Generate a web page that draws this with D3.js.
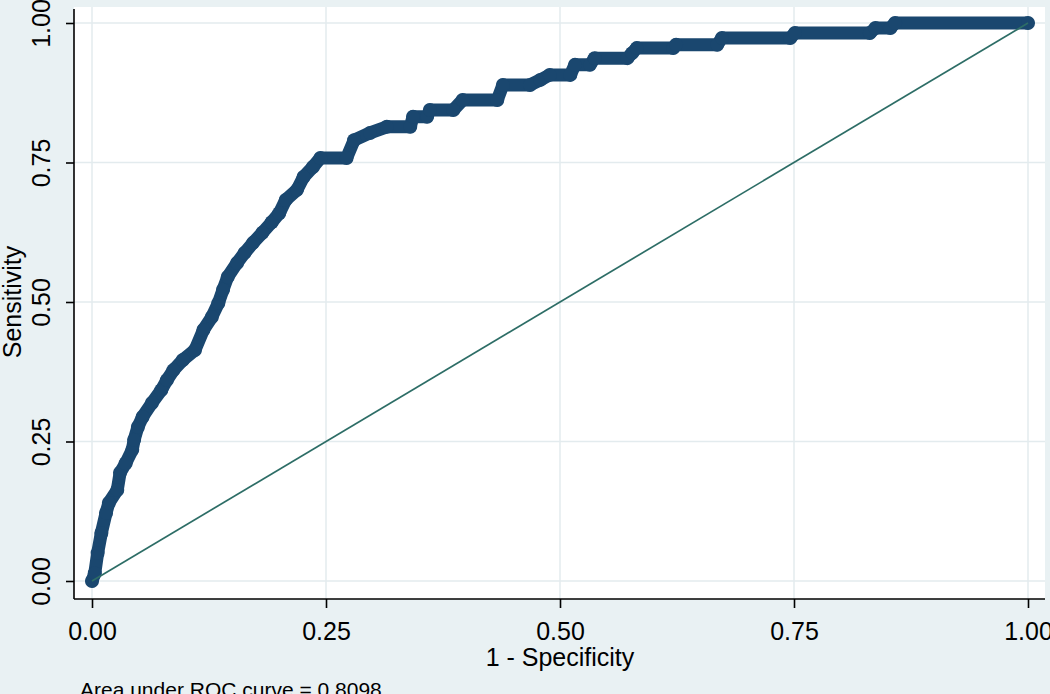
<!DOCTYPE html>
<html>
<head>
<meta charset="utf-8">
<script src="https://cdn.jsdelivr.net/npm/d3@7"></script>
<style>
  html, body { margin: 0; padding: 0; background: #e9f1f3; }
  svg { display: block; }
  text { font-family: "Liberation Sans", Arial, sans-serif; fill: #000; }
</style>
</head>
<body>
<svg id="chart" width="1050" height="694"></svg>
<script>
// ---- data ----
const fpr = [0.000,0.003,0.006,0.010,0.015,0.018,0.027,0.030,0.036,0.043,0.045,0.049,0.054,0.064,0.074,0.080,0.087,0.097,0.110,
             0.119,0.128,0.135,0.140,0.145,0.155,0.163,0.172,0.182,0.192,0.200,0.207,0.219,0.226,0.236,0.244,0.272,
             0.280,0.297,0.315,0.340,0.343,0.358,0.361,0.386,0.396,0.433,0.439,0.468,0.479,0.489,0.511,0.516,0.532,
             0.537,0.572,0.577,0.582,0.621,0.624,0.668,0.673,0.746,0.751,0.831,0.837,0.853,0.858,1.000];
const tpr = [0.000,0.014,0.050,0.086,0.122,0.140,0.163,0.194,0.211,0.235,0.253,0.276,0.294,0.319,0.342,0.360,0.378,0.396,0.414,
             0.450,0.473,0.498,0.522,0.545,0.570,0.588,0.606,0.624,0.643,0.659,0.683,0.701,0.724,0.742,0.758,0.758,
             0.790,0.803,0.814,0.814,0.832,0.832,0.844,0.844,0.862,0.862,0.889,0.889,0.898,0.907,0.907,0.925,0.925,
             0.937,0.937,0.946,0.955,0.955,0.961,0.961,0.973,0.973,0.982,0.982,0.991,0.991,1.000,1.000];
const refLine = [0, 1];
const xTicks = [0, 0.25, 0.5, 0.75, 1];
const yTicks = [0, 0.25, 0.5, 0.75, 1];
const xLabel = "1 - Specificity";
const yLabel = "Sensitivity";
const note = "Area under ROC curve = 0.8098";

// ---- layout ----
const svg = d3.select("#chart");
const plot = { left: 74, right: 1045, top: 7, bottom: 599 };
const x = d3.scaleLinear().domain([0, 1]).range([92, 1028]);
const y = d3.scaleLinear().domain([0, 1]).range([581, 23]);
const FONT = '"Liberation Sans", Arial, sans-serif';

svg.append("rect").attr("width", 1050).attr("height", 694).attr("fill", "#e9f1f3");
svg.append("rect")
  .attr("x", plot.left).attr("y", plot.top)
  .attr("width", plot.right - plot.left).attr("height", plot.bottom - plot.top)
  .attr("fill", "#ffffff");

// grid
const grid = svg.append("g").attr("stroke", "#e3ebee").attr("stroke-width", 1.5);
grid.selectAll("line.v").data(xTicks).join("line").attr("class", "v")
  .attr("x1", d => x(d)).attr("x2", d => x(d))
  .attr("y1", plot.top).attr("y2", plot.bottom);
grid.selectAll("line.h").data(yTicks).join("line").attr("class", "h")
  .attr("x1", plot.left).attr("x2", plot.right)
  .attr("y1", d => y(d)).attr("y2", d => y(d));

// ROC curve
const pts = fpr.map((f, i) => [f, tpr[i]]);
const line = d3.line().x(d => x(d[0])).y(d => y(d[1]));
svg.append("path").datum(pts).attr("d", line)
  .attr("fill", "none").attr("stroke", "#1a476f").attr("stroke-width", 13)
  .attr("stroke-linejoin", "round").attr("stroke-linecap", "round");
svg.append("g").selectAll("circle").data(pts).join("circle")
  .attr("cx", d => x(d[0])).attr("cy", d => y(d[1])).attr("r", 7)
  .attr("fill", "#1a476f");

// reference line
svg.append("line")
  .attr("x1", x(refLine[0])).attr("y1", y(refLine[0]))
  .attr("x2", x(refLine[1])).attr("y2", y(refLine[1]))
  .attr("stroke", "#2d6d66").attr("stroke-width", 1.7);

// axes
const fmt = d3.format(".2f");
const xAxis = svg.append("g").attr("transform", `translate(0,${plot.bottom})`)
  .call(d3.axisBottom(x).tickValues(xTicks).tickFormat(fmt).tickSize(9).tickSizeOuter(0));
xAxis.select(".domain").attr("d", `M${plot.left},0H${plot.right}`).attr("stroke", "#000").attr("stroke-width", 1.6);
xAxis.selectAll(".tick line").attr("stroke", "#000").attr("stroke-width", 1.6);
xAxis.selectAll(".tick text").attr("y", 41).attr("dy", 0)
  .attr("font-size", 25).style("font-family", FONT).attr("fill", "#000");

const yAxis = svg.append("g").attr("transform", `translate(${plot.left},0)`)
  .call(d3.axisLeft(y).tickValues(yTicks).tickFormat(fmt).tickSize(8).tickSizeOuter(0));
yAxis.select(".domain").attr("d", `M0,${plot.top + 2}V${plot.bottom}`).attr("stroke", "#000").attr("stroke-width", 1.6);
yAxis.selectAll(".tick line").attr("stroke", "#000").attr("stroke-width", 1.6);
yAxis.selectAll(".tick text")
  .attr("transform", "rotate(-90)")
  .attr("x", 0).attr("y", -24).attr("dy", 0)
  .attr("text-anchor", "middle")
  .attr("font-size", 25).style("font-family", FONT).attr("fill", "#000");

// titles
svg.append("text").attr("x", (x(0) + x(1)) / 2).attr("y", 666)
  .attr("text-anchor", "middle").attr("font-size", 25).text(xLabel);
svg.append("text").attr("transform", `translate(21,${(y(0) + y(1)) / 2}) rotate(-90)`)
  .attr("text-anchor", "middle").attr("font-size", 25).text(yLabel);
svg.append("text").attr("x", 80).attr("y", 697)
  .attr("font-size", 21).text(note);
</script>
</body>
</html>
